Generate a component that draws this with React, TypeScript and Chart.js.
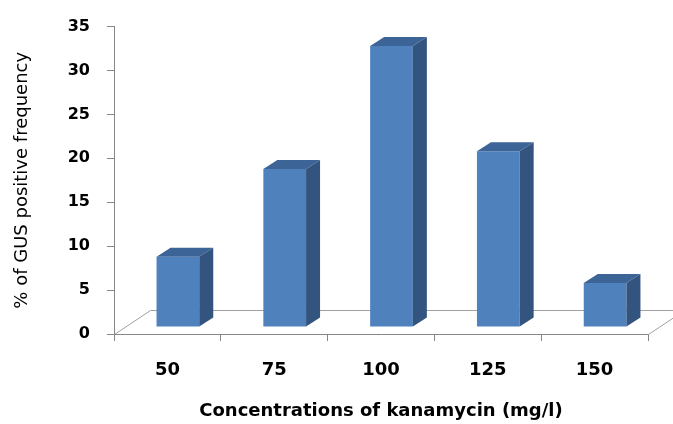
import React, { useEffect, useRef } from 'react';
import { Chart, registerables } from 'chart.js';

Chart.register(...registerables);

const categories = ['50', '75', '100', '125', '150'];
const gusPositiveFrequency = [8, 18, 32, 20, 5];
const yMin = 0;
const yMax = 35;
const yStep = 5;
const xTitle = 'Concentrations of kanamycin (mg/l)';
const yTitle = '% of GUS positive frequency';

const FRONT = '#4F81BD';
const TOP = '#3C6496';
const SIDE = '#33547F';
const AXIS = '#868686';
const FLOOR = '#A0A0A0';
const FONT = 'DejaVu Sans';

const FLOOR_DX = 36;
const FLOOR_DY = -24;
const SHIFT_X = 10.5;
const SHIFT_Y = -7;
const DEPTH_X = 14;
const DEPTH_Y = -9;

const threeD = {
  id: 'threeD',
  beforeDatasetsDraw(chart: any) {
    const { ctx, chartArea: a } = chart;
    ctx.save();
    ctx.strokeStyle = FLOOR;
    ctx.lineWidth = 1;
    ctx.beginPath();
    ctx.moveTo(a.left + 0.5, a.bottom + 0.5);
    ctx.lineTo(a.left + FLOOR_DX + 0.5, a.bottom + FLOOR_DY + 0.5);
    ctx.lineTo(a.right + FLOOR_DX + 0.5, a.bottom + FLOOR_DY + 0.5);
    ctx.lineTo(a.right + 0.5, a.bottom + 0.5);
    ctx.stroke();
    ctx.restore();
    ctx.save();
    ctx.translate(SHIFT_X, SHIFT_Y);
  },
  afterDatasetsDraw(chart: any) {
    const { ctx } = chart;
    ctx.restore();
    const meta = chart.getDatasetMeta(0);
    ctx.save();
    meta.data.forEach((bar: any) => {
      const { x, y, base, width } = bar.getProps(['x', 'y', 'base', 'width'], true);
      const l = x - width / 2 + SHIFT_X;
      const r = x + width / 2 + SHIFT_X;
      const t = y + SHIFT_Y;
      const b = base + SHIFT_Y;
      ctx.fillStyle = TOP;
      ctx.beginPath();
      ctx.moveTo(l, t);
      ctx.lineTo(l + DEPTH_X, t + DEPTH_Y);
      ctx.lineTo(r + DEPTH_X, t + DEPTH_Y);
      ctx.lineTo(r, t);
      ctx.closePath();
      ctx.fill();
      ctx.fillStyle = SIDE;
      ctx.beginPath();
      ctx.moveTo(r, t);
      ctx.lineTo(r + DEPTH_X, t + DEPTH_Y);
      ctx.lineTo(r + DEPTH_X, b + DEPTH_Y);
      ctx.lineTo(r, b);
      ctx.closePath();
      ctx.fill();
    });
    ctx.restore();
  },
};

export default function App() {
  const canvasRef = useRef<HTMLCanvasElement | null>(null);

  useEffect(() => {
    const canvas = canvasRef.current;
    if (!canvas) return;
    const chart = new Chart(canvas, {
      type: 'bar',
      data: {
        labels: categories,
        datasets: [
          {
            data: gusPositiveFrequency,
            backgroundColor: FRONT,
            borderWidth: 0,
            barPercentage: 0.4,
            categoryPercentage: 1,
            clip: false as any,
          },
        ],
      },
      options: {
        responsive: false,
        animation: false,
        events: [],
        layout: { padding: { top: 22, right: 25, left: 0, bottom: 0 } },
        plugins: {
          legend: { display: false },
          tooltip: { enabled: false },
        },
        scales: {
          x: {
            afterFit: (s: any) => {
              s.height = 90;
            },
            grid: {
              drawOnChartArea: false,
              drawTicks: true,
              tickLength: 7,
              color: AXIS,
              offset: true,
            },
            border: { color: AXIS, width: 1 },
            ticks: {
              color: '#000',
              padding: 19,
              font: { family: FONT, size: 18, weight: 'bold' },
            },
            title: {
              display: true,
              text: xTitle,
              color: '#000',
              font: { family: FONT, size: 18, weight: 'bold' },
              padding: { top: 0, bottom: 2 },
            },
          },
          y: {
            min: yMin,
            max: yMax,
            afterFit: (s: any) => {
              s.width = 114;
            },
            grid: {
              drawOnChartArea: false,
              drawTicks: true,
              tickLength: 7,
              color: AXIS,
            },
            border: { color: AXIS, width: 1 },
            ticks: {
              stepSize: yStep,
              color: '#000',
              padding: 17,
              font: { family: FONT, size: 16, weight: 'bold' },
            },
            title: {
              display: true,
              text: yTitle,
              color: '#000',
              font: { family: FONT, size: 18, weight: 'normal' },
              padding: { top: 12, bottom: 0 },
            },
          },
        },
      },
      plugins: [threeD],
    });
    return () => chart.destroy();
  }, []);

  return (
    <div style={{ position: 'absolute', left: 0, top: 0, width: 673, height: 424 }}>
      <canvas ref={canvasRef} width={673} height={424} style={{ display: 'block' }} />
    </div>
  );
}
